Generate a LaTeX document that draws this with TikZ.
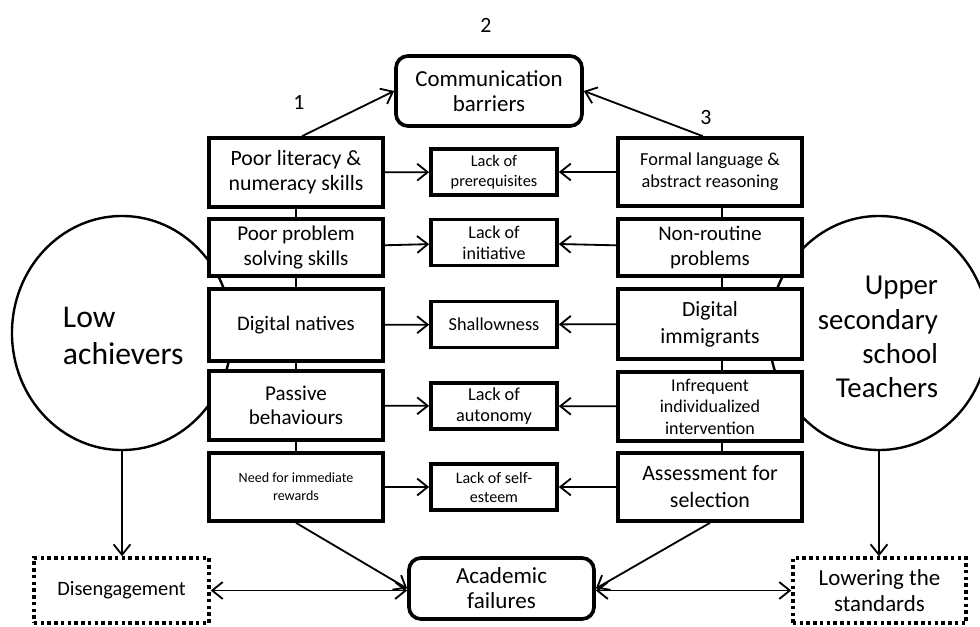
\documentclass[tikz,border=0pt]{standalone}
\usepackage{fontspec}
\setmainfont{Carlito}
\usetikzlibrary{arrows.meta,shapes.geometric}
\newcommand\fz[2]{\fontsize{#1}{#2}\selectfont}

\begin{document}
\begin{tikzpicture}[x=0.025cm, y=-0.025cm,
  box/.style={draw, line width=2.6pt, fill=white, align=center, inner sep=2pt},
  cbox/.style={box, rounded corners=0.3cm},
  dbox/.style={draw, line width=2.4pt, dash pattern=on 2.4pt off 2.4pt, align=center},
  actor/.style={draw, ellipse, line width=1.7pt, minimum width=5.5cm, minimum height=5.85cm, inner sep=0pt},
  lbox/.style={box, minimum width=4.35cm},
  mbox/.style={box, minimum width=3.15cm, minimum height=1.15cm},
  rbox/.style={box, minimum width=4.6cm},
  link/.style={line width=1.3pt, -{Straight Barb[length=7.5pt,width=12pt]}},
  both/.style={line width=1.3pt, {Straight Barb[length=7.5pt,width=12pt]}-{Straight Barb[length=7.5pt,width=12pt]}},
  tie/.style={line width=1.3pt}]
\useasboundingbox (0,0) rectangle (980,626);
\clip (0,0) rectangle (980,626);

% the two groups
\node[actor] (lowach) at (122,333) {};
\node[actor] (teach) at (879,333) {};
\node[anchor=west, align=left, font=\fz{22.5}{26.5}] (lowtxt) at (58,336) {Low\\achievers};
\node[anchor=east, align=right, font=\fz{20.5}{24.3}] (teachtxt) at (943,337) {Upper\\secondary\\school\\Teachers};

\node[cbox, minimum width=4.65cm, minimum height=1.75cm, font=\fz{16.3}{17.8}] (comm) at (489,91) {Communication\\barriers};
\node[font=\fz{15.5}{18}] (n2) at (486,25) {2};
\node[font=\fz{15.5}{18}] (n1) at (299,102) {1};
\node[font=\fz{15.5}{18}] (n3) at (706,117) {3};

% students
\node[lbox, minimum height=1.725cm, font=\fz{15.5}{17.8}] (L1) at (296,172.5) {Poor literacy \&\\numeracy skills};
\node[lbox, minimum height=1.425cm, font=\fz{15}{17.8}] (L2) at (296,247.5) {Poor problem\\solving skills};
\node[lbox, minimum height=1.8cm, font=\fz{14.7}{17.5}] (L3) at (296,325) {Digital natives};
\node[lbox, minimum height=1.725cm, font=\fz{15}{17}] (L4) at (296,405.5) {Passive\\behaviours};
\node[lbox, minimum height=1.7cm, font=\fz{10}{12.8}] (L5) at (296,487) {Need for immediate\\rewards};

% effects
\node[mbox, font=\fz{11.6}{14.2}] (M1) at (494,172) {Lack of\\prerequisites};
\node[mbox, font=\fz{12.8}{15}] (M2) at (494,242.5) {Lack of\\initiative};
\node[mbox, font=\fz{13}{15}] (M3) at (494,324.5) {Shallowness};
\node[mbox, font=\fz{13}{15}] (M4) at (494,406) {Lack of\\autonomy};
\node[mbox, font=\fz{11.4}{13.5}] (M5) at (494,487) {Lack of self-\\esteem};

% teachers
\node[rbox, minimum height=1.7cm, font=\fz{13}{15.6}] (R1) at (710,172) {Formal language \&\\abstract reasoning};
\node[rbox, minimum height=1.425cm, font=\fz{14.8}{17.8}] (R2) at (710,247.5) {Non-routine\\problems};
\node[rbox, minimum height=1.75cm, font=\fz{15.4}{19.2}] (R3) at (710,324) {Digital\\immigrants};
\node[rbox, minimum height=1.725cm, font=\fz{12.8}{15.3}] (R4) at (710,406.5) {Infrequent\\individualized\\intervention};
\node[rbox, minimum height=1.7cm, font=\fz{15.6}{19.2}] (R5) at (710,487) {Assessment for\\selection};

% outcomes
\node[cbox, minimum width=4.625cm, minimum height=1.525cm, font=\fz{16.4}{17.8}] (acad) at (501.5,588.5) {Academic\\failures};
\node[dbox, minimum width=4.375cm, minimum height=1.625cm, font=\fz{14.5}{17}] (dis) at (121.5,590.5) {Disengagement};
\node[dbox, minimum width=4.325cm, minimum height=1.625cm, font=\fz{16.3}{18.5}] (lower) at (879.5,590.5) {Lowering the\\standards};

\draw[link] ([xshift=0.15cm]L1.north) -- (comm.west);
\draw[link] ([xshift=-0.18cm]R1.north) -- (comm.east);
\foreach \i in {1,...,5} {
  \draw[link] (L\i) -- (M\i);
  \draw[link] (R\i) -- (M\i);
}
\foreach \a/\b in {1/2,2/3,3/4,4/5} {
  \draw[tie] (L\a) -- (L\b);
  \draw[tie] ([xshift=0.3cm]R\a.south) -- ([xshift=0.3cm]R\b.north);
}
\draw[link] (L5.south) -- (acad.west);
\draw[link] (R5.south) -- (acad.east);
\draw[both] (dis.east) -- (dis.east -| acad.west);
\draw[both] (acad.east |- lower.west) -- (lower.west);
\draw[link] (lowach.south) -- (lowach.south |- dis.north);
\draw[link] (teach.south) -- (teach.south |- lower.north);
\end{tikzpicture}
\end{document}
